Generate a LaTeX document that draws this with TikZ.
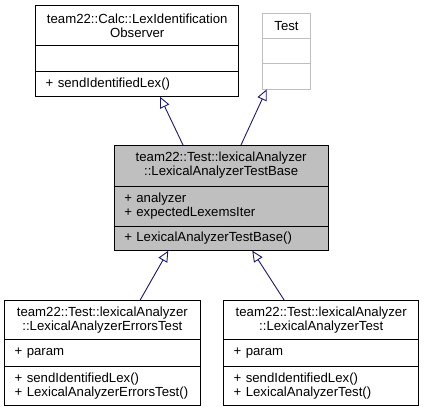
\documentclass[tikz,border=0pt]{standalone}
\usepackage{fontspec}
\setmainfont{Liberation Sans}
\usetikzlibrary{arrows.meta}
\definecolor{edgeblue}{HTML}{191970}
\definecolor{boxgray}{HTML}{BFBFBF}
\tikzset{
  comp/.style={draw=black, line width=0.9pt, inner sep=0pt, outer sep=0pt, anchor=north west,
    font=\fontsize{13.2}{14}\selectfont},
  ctitle/.style={comp, align=center},
  cmember/.style={comp, align=left, inner xsep=10pt},
  ghost/.style={draw=boxgray},
  inherit/.style={draw=edgeblue, line width=0.9pt, -{Triangle[open, length=11pt, width=10pt]}},
}
\begin{document}
\begin{tikzpicture}[x=1pt, y=-1pt]
\useasboundingbox (0,0) rectangle (424,412);
% LexIdentificationObserver
\node[ctitle, minimum width=203pt, minimum height=40pt] (obsT) at (35.7,5.7) {team22::Calc::LexIdentification\\Observer};
\node[cmember, minimum width=203pt, minimum height=25.3pt, text width=183pt] (obsA) at (35.7,45.7) {};
\node[cmember, minimum width=203pt, minimum height=25.7pt, text width=183pt] (obsM) at (35.7,71) {+ sendIdentifiedLex()};
% Test
\node[ctitle, ghost, minimum width=48.4pt, minimum height=25.4pt] (testT) at (262.3,13.3) {Test};
\node[comp, ghost, minimum width=48.4pt, minimum height=25pt] (testA) at (262.3,38.7) {};
\node[comp, ghost, minimum width=48.4pt, minimum height=25.6pt] (testM) at (262.3,63.7) {};
% Base
\node[ctitle, fill=boxgray, minimum width=213.7pt, minimum height=41pt] (baseT) at (114.3,145) {team22::Test::lexicalAnalyzer\\::LexicalAnalyzerTestBase};
\node[cmember, fill=boxgray, minimum width=213.7pt, minimum height=40pt, text width=193.7pt] (baseA) at (114.3,186) {+ analyzer\\+ expectedLexemsIter};
\node[cmember, fill=boxgray, minimum width=213.7pt, minimum height=24.7pt, text width=193.7pt] (baseM) at (114.3,226) {+ LexicalAnalyzerTestBase()};
% Errors test
\node[ctitle, minimum width=195.3pt, minimum height=38.7pt] (errT) at (4.7,300.3) {team22::Test::lexicalAnalyzer\\::LexicalAnalyzerErrorsTest};
\node[cmember, minimum width=195.3pt, minimum height=27.7pt, text width=175.3pt] (errA) at (4.7,339) {+ param};
\node[cmember, minimum width=195.3pt, minimum height=39pt, text width=175.3pt] (errM) at (4.7,366.7) {+ sendIdentifiedLex()\\+ LexicalAnalyzerErrorsTest()};
% Analyzer test
\node[ctitle, minimum width=195pt, minimum height=38.7pt] (anT) at (223.7,300.3) {team22::Test::lexicalAnalyzer\\::LexicalAnalyzerTest};
\node[cmember, minimum width=195pt, minimum height=27.7pt, text width=175pt] (anA) at (223.7,339) {+ param};
\node[cmember, minimum width=195pt, minimum height=39pt, text width=175pt] (anM) at (223.7,366.7) {+ sendIdentifiedLex()\\+ LexicalAnalyzerTest()};
% connectors
\coordinate (e1s) at (baseT.north -| 183,0);
\coordinate (e1t) at (obsM.south -| 160,0);
\coordinate (e2s) at (baseT.north -| 241,0);
\coordinate (e2t) at (testM.south -| 266.7,0);
\coordinate (e3s) at (errT.north -| 140,0);
\coordinate (e3t) at (baseM.south -| 168.3,0);
\coordinate (e4s) at (anT.north -| 284.3,0);
\coordinate (e4t) at (baseM.south -| 252.3,0);
\draw[inherit] (e1s) -- (e1t);
\draw[inherit] (e2s) -- (e2t);
\draw[inherit] (e3s) -- (e3t);
\draw[inherit] (e4s) -- (e4t);
\end{tikzpicture}
\end{document}
